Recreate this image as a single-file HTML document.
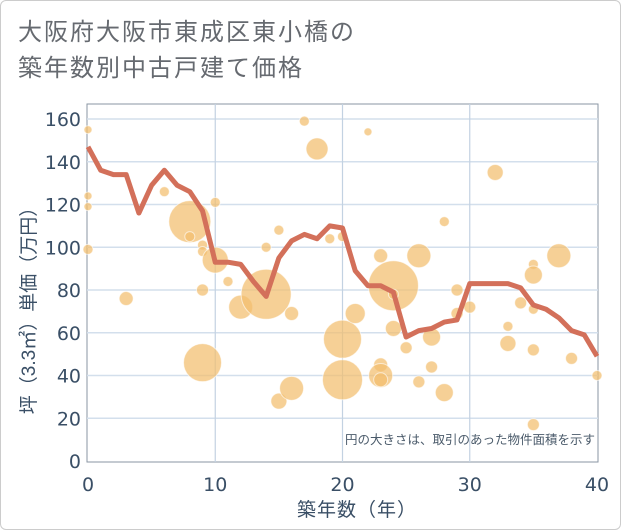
<!DOCTYPE html>
<html><head><meta charset="utf-8"><style>
body{margin:0;background:#fff;}
#wrap{position:relative;width:619px;height:528px;border:1px solid #ccc;border-radius:6px;overflow:hidden;font-family:"Liberation Sans","Noto Sans CJK JP",sans-serif;}
#title{position:absolute;left:17px;top:14px;font-size:24px;line-height:36px;color:#666a70;letter-spacing:2px;}
svg{position:absolute;left:0;top:0;}
</style></head><body>
<div id="wrap">
<div id="title">大阪府大阪市東成区東小橋の<br>築年数別中古戸建て価格</div>
<svg id="c" width="621" height="530"></svg>
</div>
<script>
const yTicks=[0,20,40,60,80,100,120,140,160];
const xTicks=[0,10,20,30,40];
const lineYears=[0,1,2,3,4,5,6,7,8,9,10,11,12,13,14,15,16,17,18,19,20,21,22,23,24,25,26,27,28,29,30,31,32,33,34,35,36,37,38,39,40];
const lineValues=[147,136,134,134,116,129,136,129,126,117,93,93,92,84,77,95,103,106,104,110,109,89,82,82,79,58,61,62,65,66,83,83,83,83,81,73,71,67,61,59,49];
const bubbleX=[0,0,0,0,3,6,8,8,9,9,9,9,10,10,11,12,14,14,15,15,16,16,17,18,19,20,20,20,21,22,23,23,23,23,24,24,24,25,26,26,27,27,28,28,29,29,30,32,33,33,34,35,35,35,35,35,37,38,40];
const bubbleY=[155,124,119,99,76,126,112,105,101,98,80,46,121,94,84,72,78,100,108,28,69,34,159,146,104,105,57,38,69,154,96,45,40,38,82,78,62,53,96,37,58,44,32,112,80,69,72,135,63,55,74,92,87,71,52,17,96,48,40];
const bubbleSize=[4,4,4,5,7,5,21,5,5,5,6,19,5,13,5,12,25,5,5,8,7,12,5,11,5,5,19,20,10,4,7,7,12,7,25,5,8,6,12,6,9,6,9,5,6,6,6,8,5,8,6,5,9,5,6,6,12,6,5];
const L=87,R=596,T=103,B=460;
const X=v=>L+(v-0)/40*(R-L);
const Y=v=>B-v/160*(B-118);
const NS='http://www.w3.org/2000/svg';
const svg=document.getElementById('c');
function mk(t,a){const e=document.createElementNS(NS,t);for(const k in a)e.setAttribute(k,a[k]);svg.appendChild(e);return e;}
const frame=mk('rect',{x:86,y:103,width:511,height:358,fill:'#fff',stroke:'#8a96a3','stroke-width':1});


yTicks.forEach(v=>{
 if(v>0){const g=mk('line',{x1:86,x2:597,y1:Y(v),y2:Y(v),stroke:'#d3dfec','stroke-width':1.5});
 
 }
 const t=mk('text',{x:80,y:Y(v)+7,'text-anchor':'end','font-size':19,fill:'#3a4f66','font-family':'DejaVu Sans, sans-serif'});
 t.textContent=v;
 
 
});
xTicks.forEach(v=>{
 if(v>0&&v<40){const g=mk('line',{x1:X(v),x2:X(v),y1:103,y2:461,stroke:'#c3d2e2','stroke-width':1.2});
 
 }
 const t=mk('text',{x:X(v),y:490,'text-anchor':'middle','font-size':19,fill:'#3a4f66','font-family':'DejaVu Sans, sans-serif'});
 t.textContent=v;
 
 
});
bubbleX.forEach((x,i)=>{
 const c=mk('circle',{cx:X(x),cy:Y(bubbleY[i]),r:bubbleSize[i],fill:'rgba(242,190,110,0.72)',stroke:'rgba(255,255,255,0.6)','stroke-width':1});
 
 
});
const p=mk('polyline',{points:lineYears.map((x,i)=>X(x)+','+Y(lineValues[i])).join(' '),fill:'none',stroke:'#d3705a','stroke-width':5,'stroke-linejoin':'round'});


const n=mk('text',{x:594,y:443,'text-anchor':'end','font-size':12.5,fill:'#4a5a6a'});
n.textContent='円の大きさは、取引のあった物件面積を示す';


const xt=mk('text',{x:356,y:515,'text-anchor':'middle','font-size':19,fill:'#3a4f66','letter-spacing':1});
xt.textContent='築年数（年）';


const yt=mk('text',{x:0,y:0,'text-anchor':'middle','font-size':19,fill:'#3a4f66',transform:'translate(34,305) rotate(-90)'});
yt.textContent='坪（3.3㎡）単価（万円）';


</script>
</body></html>
